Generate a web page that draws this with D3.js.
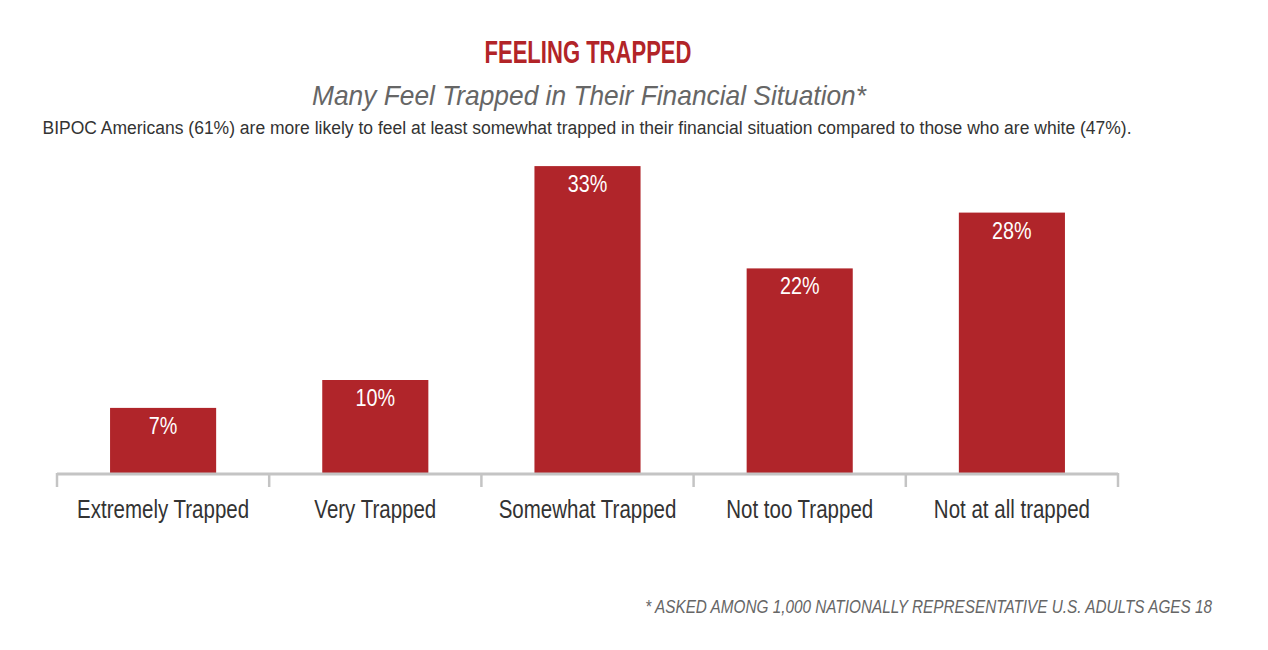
<!DOCTYPE html>
<html>
<head>
<meta charset="utf-8">
<script src="https://cdn.jsdelivr.net/npm/d3@7"></script>
<style>
  body { margin: 0; background: #fff; }
  svg { display: block; }
</style>
</head>
<body>
<svg id="chart" width="1268" height="650"></svg>
<script>
// data
var categories = ["Extremely Trapped", "Very Trapped", "Somewhat Trapped", "Not too Trapped", "Not at all trapped"];
var values = [7, 10, 33, 22, 28];
var valueLabels = ["7%", "10%", "33%", "22%", "28%"];

var red = "#b0252a",
    axisGrey = "#c4c4c4",
    sans = "'Liberation Sans', Arial, sans-serif",
    narrowScale = 0.82;   // squeeze Liberation Sans to look like Arial Narrow

var svg = d3.select("#chart");

// scales
var x = d3.scaleBand()
    .domain(categories)
    .range([57, 1118])
    .paddingInner(0.5)
    .paddingOuter(0.25);

var y = d3.scaleLinear()
    .domain([0, 35])
    .range([473, 147.5]);

// titles
svg.append("text")
    .attr("x", 588).attr("y", 63)
    .attr("text-anchor", "middle")
    .attr("font-family", sans)
    .attr("font-weight", "bold")
    .attr("font-size", 31)
    .attr("fill", "#b22428")
    .attr("textLength", 207)
    .attr("lengthAdjust", "spacingAndGlyphs")
    .text("FEELING TRAPPED");

svg.append("text")
    .attr("x", 589).attr("y", 105)
    .attr("text-anchor", "middle")
    .attr("font-family", sans)
    .attr("font-style", "italic")
    .attr("font-size", 28)
    .attr("fill", "#666")
    .attr("textLength", 554)
    .attr("lengthAdjust", "spacingAndGlyphs")
    .text("Many Feel Trapped in Their Financial Situation*");

svg.append("text")
    .attr("x", 587).attr("y", 134)
    .attr("text-anchor", "middle")
    .attr("font-family", sans)
    .attr("font-size", 18)
    .attr("fill", "#333")
    .attr("textLength", 1089)
    .attr("lengthAdjust", "spacingAndGlyphs")
    .text("BIPOC Americans (61%) are more likely to feel at least somewhat trapped in their financial situation compared to those who are white (47%).");

// bars
var bars = svg.append("g").attr("class", "bars")
    .selectAll("g")
    .data(categories)
    .enter().append("g");

bars.append("rect")
    .attr("x", function (d) { return x(d); })
    .attr("y", function (d, i) { return y(values[i]); })
    .attr("width", x.bandwidth())
    .attr("height", function (d, i) { return y(0) - y(values[i]); })
    .attr("fill", red);

bars.append("text")
    .attr("transform", function (d, i) {
        return "translate(" + (x(d) + x.bandwidth() / 2) + "," + (y(values[i]) + 26) + ") scale(0.86,1)";
    })
    .attr("text-anchor", "middle")
    .attr("font-family", sans)
    .attr("font-size", 23)
    .attr("fill", "#fff")
    .text(function (d, i) { return valueLabels[i]; });

// axis: labels via d3 axis, line + boundary ticks drawn from the scale
var xAxis = svg.append("g")
    .attr("transform", "translate(0," + y(0) + ")")
    .call(d3.axisBottom(x).tickSize(0).tickPadding(27));
xAxis.select(".domain").remove();
xAxis.selectAll("text")
    .attr("transform", "scale(" + narrowScale + ",1)")
    .attr("font-family", sans)
    .attr("font-size", 25)
    .attr("fill", "#333");

var edges = categories.map(function (d) { return x(d) - x.step() * x.paddingInner() / 2; });
edges[0] = x.range()[0];
edges.push(x.range()[1]);

var axisLine = svg.append("g").attr("class", "axis-line");
axisLine.append("line")
    .attr("x1", x.range()[0]).attr("x2", x.range()[1])
    .attr("y1", y(0) + 1).attr("y2", y(0) + 1)
    .attr("stroke", axisGrey).attr("stroke-width", 3);
axisLine.selectAll(".tick-mark")
    .data(edges)
    .enter().append("line")
    .attr("class", "tick-mark")
    .attr("x1", function (d) { return d; }).attr("x2", function (d) { return d; })
    .attr("y1", y(0)).attr("y2", y(0) + 14)
    .attr("stroke", axisGrey).attr("stroke-width", 2.5);

// footnote - squeezed to fit the same span as the original
var foot = svg.append("g");
var footText = foot.append("text")
    .attr("x", 0).attr("y", 0)
    .attr("text-anchor", "end")
    .attr("font-family", sans)
    .attr("font-style", "italic")
    .attr("font-size", 18)
    .attr("fill", "#666")
    .text("* ASKED AMONG 1,000 NATIONALLY REPRESENTATIVE U.S. ADULTS AGES 18");
var footW = footText.node().getComputedTextLength();
foot.attr("transform", "translate(1212,613) scale(" + Math.min(1, 567 / footW) + ",1)");
</script>
</body>
</html>
